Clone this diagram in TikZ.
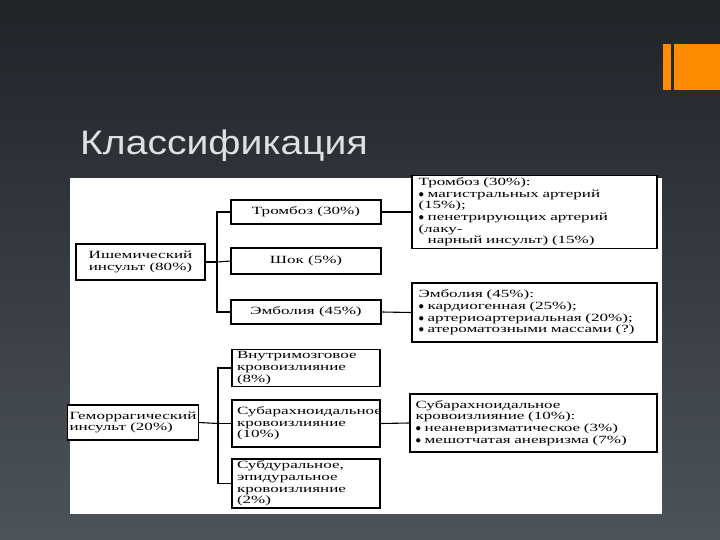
\documentclass[tikz,border=0pt]{standalone}
\usepackage{fontspec}
\setmainfont{Liberation Serif}[FakeStretch=1.55]
\newfontfamily\titlefont{Liberation Sans}[FakeStretch=1.15]
\definecolor{bgtop}{HTML}{1F2429}
\definecolor{bgbot}{HTML}{4D535A}
\definecolor{orng}{HTML}{FF8C00}
\begin{document}
\begin{tikzpicture}[x=1pt,y=-1pt,
  bx/.style={draw=black,line width=1.1pt,fill=white,inner sep=2pt,font=\fontsize{11}{11.6}\selectfont,align=center},
  ln/.style={line width=1.1pt}]
\shade[top color=bgtop,bottom color=bgbot] (0,0) rectangle (720,540);
\useasboundingbox (0,0) rectangle (720,540);
\fill[orng] (663,44) rectangle (671,90);
\fill[orng] (674,44) rectangle (720,90);
\node[anchor=base west,inner sep=0,text=white!88!black,font=\titlefont\fontsize{34}{36}\selectfont] (title) at (80,155) {Классификация};
\fill[white] (70,178) rectangle (662,514);
% ischemic
\node[bx,minimum width=129,minimum height=36] (isch) at (140.5,262) {Ишемический\\инсульт (80\%)};
\node[bx,minimum width=150,minimum height=24] (tr) at (306,212) {Тромбоз (30\%)};
\node[bx,minimum width=150,minimum height=26] (shok) at (306,261) {Шок (5\%)};
\node[bx,minimum width=150,minimum height=24] (emb) at (306,312) {Эмболия (45\%)};
\node[bx,minimum width=245,minimum height=58,align=left,text width=232] (trr) at (534.5,212) {Тромбоз (30\%):\\ $\bullet$ магистральных артерий (15\%);\\ $\bullet$ пенетрирующих артерий (лаку-\\ \phantom{$\bullet$} нарный инсульт) (15\%)};
\node[bx,minimum width=245,minimum height=59,align=left,text width=232] (embr) at (534.5,312.5) {Эмболия (45\%):\\ $\bullet$ кардиогенная (25\%);\\ $\bullet$ артериоартериальная (20\%);\\ $\bullet$ атероматозными массами (?)};
\coordinate (j1) at (217,262);
\draw[ln] (isch.east) -- (j1);
\draw[ln] (tr.west) -| (j1) |- (emb.west);
\draw[ln] (j1) -- (shok.west);
\draw[ln] (tr.east) -- (trr.west);
\draw[ln] (emb.east) -- (embr.west);
% hemorrhagic
\node[bx,minimum width=114,minimum height=35,align=left] (hem) at (133,422.5) {Геморрагический\\инсульт (20\%)};
\node[bx,minimum width=148,minimum height=36,align=left,text width=138] (vm) at (306,368) {Внутримозговое\\кровоизлияние (8\%)};
\node[bx,minimum width=148,minimum height=47,align=left,text width=138] (sa) at (306,423.5) {Субарахноидальное\\кровоизлияние\\(10\%)};
\node[bx,minimum width=148,minimum height=43,align=left,text width=138] (sd) at (306,483.5) {Субдуральное,\\эпидуральное\\кровоизлияние (2\%)};
\node[bx,minimum width=247,minimum height=58,align=left,text width=236] (sar) at (533.5,423) {Субарахноидальное\\кровоизлияние (10\%):\\$\bullet$ неаневризматическое (3\%)\\$\bullet$ мешотчатая аневризма (7\%)};
\coordinate (j2) at (218,423.5);
\draw[ln] (hem.east) -- (j2);
\draw[ln] (vm.west) -| (j2) |- (sd.west);
\draw[ln] (j2) -- (sa.west);
\draw[ln] (sa.east) -- (sar.west);
\end{tikzpicture}
\end{document}
